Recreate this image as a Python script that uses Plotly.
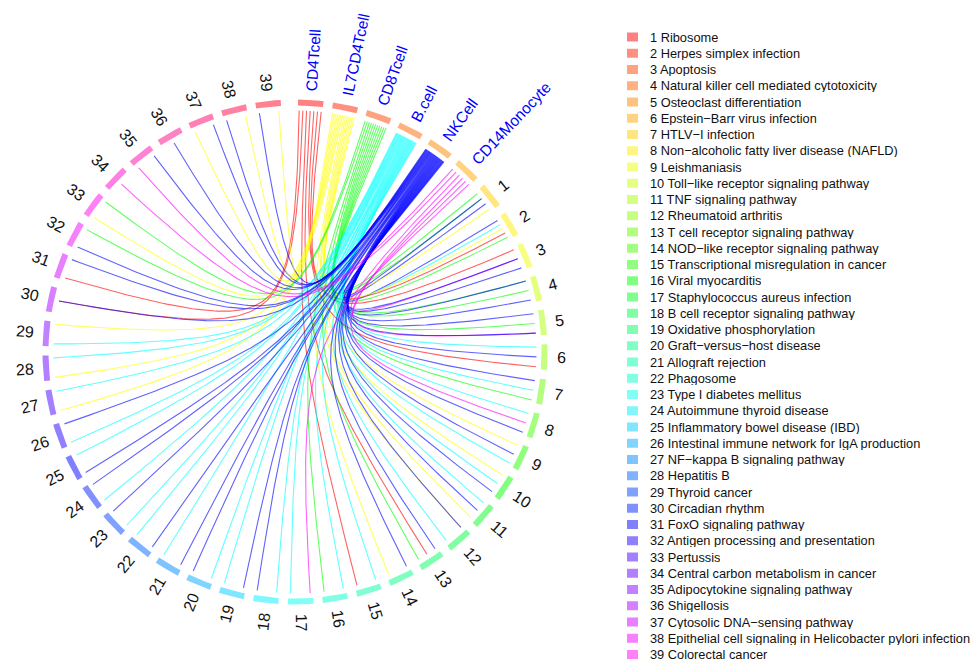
import math
import colorsys
import plotly.graph_objects as go

# ---------------------------------------------------------------- data
cells = ["CD4Tcell", "IL7CD4Tcell", "CD8Tcell", "B.cell", "NKCell", "CD14Monocyte"]
cell_keys = ["T4", "IL7", "T8", "B", "NK", "Mo"]

pathways = [
    "Ribosome", "Herpes simplex infection", "Apoptosis",
    "Natural killer cell mediated cytotoxicity", "Osteoclast differentiation",
    "Epstein\u2212Barr virus infection", "HTLV\u2212I infection",
    "Non\u2212alcoholic fatty liver disease (NAFLD)", "Leishmaniasis",
    "Toll\u2212like receptor signaling pathway", "TNF signaling pathway",
    "Rheumatoid arthritis", "T cell receptor signaling pathway",
    "NOD\u2212like receptor signaling pathway",
    "Transcriptional misregulation in cancer", "Viral myocarditis",
    "Staphylococcus aureus infection", "B cell receptor signaling pathway",
    "Oxidative phosphorylation", "Graft\u2212versus\u2212host disease",
    "Allograft rejection", "Phagosome", "Type I diabetes mellitus",
    "Autoimmune thyroid disease", "Inflammatory bowel disease (IBD)",
    "Intestinal immune network for IgA production",
    "NF\u2212kappa B signaling pathway", "Hepatitis B", "Thyroid cancer",
    "Circadian rhythm", "FoxO signaling pathway",
    "Antigen processing and presentation", "Pertussis",
    "Central carbon metabolism in cancer", "Adipocytokine signaling pathway",
    "Shigellosis", "Cytosolic DNA\u2212sensing pathway",
    "Epithelial cell signaling in Helicobacter pylori infection",
    "Colorectal cancer",
]

# cells linked to each pathway, listed clockwise along the pathway sector;
# "a+b" means two cells whose links end at the same point of the pathway
pathway_links = [
    ["T8", "T8+NK", "NK", "IL7"],        # 1
    ["NK", "B", "IL7", "T4", "T8"],      # 2
    ["T4", "Mo+NK", "NK"],               # 3
    ["T8+NK", "T8", "NK"],               # 4
    ["NK", "T8", "Mo+NK"],               # 5
    ["B", "NK", "T4"],                   # 6
    ["NK", "B", "T8"],                   # 7
    ["B", "Mo", "NK"],                   # 8
    ["IL7", "NK", "B"],                  # 9
    ["IL7", "B", "NK"],                  # 10
    ["B", "NK", "IL7"],                  # 11
    ["IL7+NK", "B"],                     # 12
    ["NK", "T4", "T8"],                  # 13
    ["NK", "IL7"],                       # 14
    ["B", "T4"],                         # 15
    ["B", "T8"],                         # 16
    ["Mo", "B"],                         # 17
    ["B", "NK"],                         # 18
    ["NK", "B"],                         # 19
    ["B", "NK"],                         # 20
    ["NK", "B"],                         # 21
    ["NK", "B"],                         # 22
    ["B", "NK"],                         # 23
    ["B", "NK"],                         # 24
    ["NK", "B"],                         # 25
    ["B", "NK"],                         # 26
    ["IL7", "B"],                        # 27
    ["IL7", "B"],                        # 28
    ["B", "IL7"],                        # 29
    ["T4+NK"],                           # 30
    ["T4", "NK"],                        # 31
    ["NK", "T8"],                        # 32
    ["IL7", "T8"],                       # 33
    ["Mo"],                              # 34
    ["Mo", "NK"],                        # 35
    ["NK"],                              # 36
    ["IL7", "NK"],                       # 37
    ["NK", "IL7"],                       # 38
    ["NK", "IL7"],                       # 39
]

# ---------------------------------------------------------------- layout constants
W_PX, H_PX = 974, 661
CX, CY = 295.0, 352.0
R_IN, R_OUT = 246.5, 252.5
R_LINK = 241.5
START_DEG = 89.3
SECTOR_DEG = 5.81
GAP_DEG = 2.15
# links are rational quadratic Bezier curves pulled towards a point just above the centre
PULL_X, PULL_Y = CX, CY - 8
LINK_WEIGHT = 2.5
FONT = "Liberation Sans, Arial, Helvetica, sans-serif"

N_SECTORS = len(cells) + len(pathways)


def sector_span(k):
    a0 = START_DEG - k * (SECTOR_DEG + GAP_DEG)
    return a0, a0 - SECTOR_DEG


def polar(theta, r):
    t = math.radians(theta)
    return CX + r * math.cos(t), CY - r * math.sin(t)


def hue_color(k, n, alpha):
    r, g, b = colorsys.hsv_to_rgb(k / n, 1.0, 1.0)
    r, g, b = [int(round(255 * (alpha * v + (1 - alpha)))) for v in (r, g, b)]
    return f"rgb({r},{g},{b})"


def link_rgba(i, alpha=0.62):
    r, g, b = colorsys.hsv_to_rgb(i / len(cells), 1.0, 1.0)
    return f"rgba({int(255*r)},{int(255*g)},{int(255*b)},{alpha})"


CHAR_W = {c: 0.556 for c in "0123456789"}
CHAR_W.update({"C": .722, "D": .722, "T": .611, "c": .5, "e": .556, "l": .222,
               "I": .278, "L": .556, "B": .667, ".": .278, "N": .722, "K": .667,
               "M": .833, "o": .556, "n": .556, "y": .5, "t": .278})


def text_len(s, size):
    return sum(CHAR_W.get(ch, 0.556) for ch in s) * size


fig = go.Figure()

# ---------------------------------------------------------------- link geometry
# pathway-side endpoints
path_points = []  # (cell_key, pathway index, angle)
for p, slots in enumerate(pathway_links):
    a0, _ = sector_span(len(cells) + p)
    n = len(slots)
    for i, slot in enumerate(slots):
        f = 0.5 if n == 1 else 0.1 + 0.8 * i / (n - 1)
        ang = a0 - f * SECTOR_DEG
        for key in slot.split("+"):
            path_points.append((key, p, ang))

# cell-side endpoints, spread over each cell sector
cell_angle = {}
for ci, key in enumerate(cell_keys):
    mine = [j for j, pp in enumerate(path_points) if pp[0] == key]
    a0, _ = sector_span(ci)
    n = len(mine)
    for i, j in enumerate(mine):
        f = 0.5 if n == 1 else 0.95 - 0.9 * i / (n - 1)
        cell_angle[j] = a0 - f * SECTOR_DEG


def bezier(p0, p2, q, w, n=120):
    xs, ys = [], []
    for i in range(n + 1):
        t = i / n
        a, b, c = (1 - t) ** 2, 2 * t * (1 - t) * w, t * t
        d = a + b + c
        xs.append((a * p0[0] + b * q[0] + c * p2[0]) / d)
        ys.append((a * p0[1] + b * q[1] + c * p2[1]) / d)
    return xs, ys


for j, (key, p, ang) in enumerate(path_points):
    ci = cell_keys.index(key)
    p0 = polar(cell_angle[j], R_LINK)
    p2 = polar(ang, R_LINK)
    xs, ys = bezier(p0, p2, (PULL_X, PULL_Y), LINK_WEIGHT)
    fig.add_trace(go.Scatter(
        x=xs, y=ys, mode="lines",
        line=dict(color=link_rgba(ci), width=1.1),
        hoverinfo="skip", showlegend=False))

# ---------------------------------------------------------------- outer ring
for k in range(N_SECTORS):
    a0, a1 = sector_span(k)
    steps = 24
    outer = [polar(a0 - (a0 - a1) * s / steps, R_OUT) for s in range(steps + 1)]
    inner = [polar(a1 + (a0 - a1) * s / steps, R_IN) for s in range(steps + 1)]
    pts = outer + inner + [outer[0]]
    fig.add_trace(go.Scatter(
        x=[p[0] for p in pts], y=[p[1] for p in pts], mode="lines",
        fill="toself", fillcolor=hue_color(k, N_SECTORS, 0.5),
        line=dict(width=0), hoverinfo="skip", showlegend=False))

# ---------------------------------------------------------------- sector labels
annotations = []
labels = cells + [str(i + 1) for i in range(len(pathways))]
for k, lab in enumerate(labels):
    a0, a1 = sector_span(k)
    theta = (a0 + a1) / 2
    is_cell = k < len(cells)
    size = 15.5 if is_cell else 16
    r_start = 261 if is_cell else 262
    rc = r_start + text_len(lab, size) / 2
    x, y = polar(theta, rc)
    th = theta % 360
    if th > 180:
        th -= 360
    if -90 <= th <= 90:
        angle = -th
    else:
        angle = 180 - th
        if angle > 180:
            angle -= 360
    annotations.append(dict(
        x=x, y=y, xref="x", yref="y", text=lab, showarrow=False,
        textangle=angle, xanchor="center", yanchor="middle",
        font=dict(family=FONT, size=size, color="#0000ff" if is_cell else "#111111")))

# ---------------------------------------------------------------- legend
LEG_Y0, LEG_DY = 37.0, 16.25
LEG_X_BOX, LEG_X_TXT = 627, 649
shapes = []
for i, name in enumerate(pathways):
    yc = LEG_Y0 + i * LEG_DY
    shapes.append(dict(
        type="rect", xref="x", yref="y",
        x0=LEG_X_BOX, x1=LEG_X_BOX + 11, y0=yc - 4.5, y1=yc + 4.5,
        fillcolor=hue_color(i, N_SECTORS, 0.5), line=dict(width=0)))
    annotations.append(dict(
        x=LEG_X_TXT, y=yc, xref="x", yref="y", text=f"{i + 1} {name}",
        showarrow=False, xanchor="left", yanchor="middle",
        height=13, valign="middle", borderpad=0,
        font=dict(family=FONT, size=12.8, color="#111111")))

fig.update_layout(
    width=W_PX, height=H_PX,
    margin=dict(l=0, r=0, t=0, b=0),
    paper_bgcolor="white", plot_bgcolor="white",
    xaxis=dict(range=[0, W_PX], visible=False, fixedrange=True),
    yaxis=dict(range=[H_PX, 0], visible=False, fixedrange=True),
    annotations=annotations, shapes=shapes,
    showlegend=False,
)

fig.write_html("out.html")
